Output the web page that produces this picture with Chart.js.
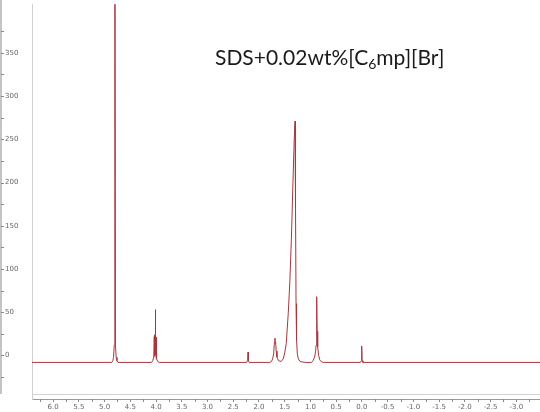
<!DOCTYPE html>
<html>
<head>
<meta charset="utf-8">
<script src="https://cdn.jsdelivr.net/npm/chart.js@4/dist/chart.umd.min.js"></script>
<style>
    body { margin: 0; background: #fff; }
    #wrap { position: relative; width: 540px; height: 412px; }
    #label {
        position: absolute; left: 215px; top: 46px;
        font-family: Lato, "Open Sans", sans-serif; font-size: 21px; color: #1a1a1a;
        line-height: 1; white-space: nowrap;
    }
    #label sub { font-size: 14px; vertical-align: -4px; line-height: 0; }
</style>
</head>
<body>
<div id="wrap">
    <canvas id="nmrChart"></canvas>
    <div id="label">SDS+0.02wt%[C<sub>6</sub>mp][Br]</div>
</div>
<script>
// chemical shift (ppm) and intensity
var shifts = [
    6.41, 4.86, 4.84, 4.825, 4.812, 4.80, 4.788, 4.775, 4.76, 4.74,
    4.09, 4.065, 4.045, 4.035, 4.03, 4.025, 4.02, 4.015, 4.01, 4.005, 4.0, 3.995, 3.985, 3.965, 3.94,
    2.24, 2.22, 2.212, 2.205, 2.19,
    1.79, 1.76, 1.735, 1.715, 1.70, 1.69, 1.682, 1.676, 1.665, 1.65, 1.62,
    1.57, 1.53, 1.50, 1.47, 1.43, 1.40, 1.37, 1.34, 1.315, 1.30, 1.29, 1.28, 1.27, 1.255, 1.235, 1.20, 1.10,
    0.98, 0.95, 0.92, 0.90, 0.89, 0.882, 0.875, 0.87, 0.864, 0.855, 0.84, 0.82, 0.79, 0.75,
    0.03, 0.012, 0.004, -0.004, -0.02, -3.46
];
var intensity = [
    -8, -8, -6, -2, 12, 600, 12, -2, -6, -8,
    -8, -6, -2, 22, -1, 24, 1, 53, 2, 23, -2, 21, -4, -7, -8,
    -8, -6, 4, -6, -8,
    -8, -7, -4, 2, 15, 20, 14, 15, 5, -2, -6,
    -7, -4, 3, 14, 50, 86, 135, 200, 250, 271, 170, 60, 18, 2, -4, -7, -8,
    -8, -6, -2, 5, 12, 24, 68, 28, 24, 10, 0, -5, -7, -8,
    -8, -6, 11, -6, -8, -8
];
var xTicks = [6.0, 5.5, 5.0, 4.5, 4.0, 3.5, 3.0, 2.5, 2.0, 1.5, 1.0, 0.5, 0.0, -0.5, -1.0, -1.5, -2.0, -2.5, -3.0];
var yTicks = [0, 50, 100, 150, 200, 250, 300, 350];

var points = shifts.map(function (s, i) { return { x: s, y: intensity[i] }; });

// extra axis pieces: detached left axis, bottom frame line, minor ticks
var axisDecor = {
    id: 'axisDecor',
    afterDraw: function (chart) {
        var ctx = chart.ctx;
        var area = chart.chartArea;
        var xs = chart.scales.x, ys = chart.scales.y;
        ctx.save();
        ctx.fillStyle = '#c4c4c4';
        ctx.fillRect(0, 0, 2, 394);
        ctx.strokeStyle = '#888';
        ctx.lineWidth = 1;
        for (var v = -25; v <= 375; v += 25) {
            var py = Math.round(ys.getPixelForValue(v)) + 0.5;
            ctx.beginPath();
            ctx.moveTo(1, py);
            ctx.lineTo(4, py);
            ctx.stroke();
        }
        ctx.strokeStyle = '#d4d4d4';
        ctx.beginPath();
        ctx.moveTo(area.left, 394.5);
        ctx.lineTo(area.right, 394.5);
        ctx.stroke();
        ctx.strokeStyle = '#888';
        for (var i = 0; i <= xTicks.length; i++) {
            var m = i < xTicks.length ? xTicks[i] + 0.25 : xTicks[xTicks.length - 1] - 0.25;
            var px = Math.round(xs.getPixelForValue(m)) + 0.5;
            if (px < area.left || px > area.right) continue;
            ctx.beginPath();
            ctx.moveTo(px, area.bottom);
            ctx.lineTo(px, area.bottom + 3);
            ctx.stroke();
        }
        ctx.restore();
    }
};

var ctx = document.getElementById('nmrChart').getContext('2d');
var nmrChart = new Chart(ctx, {
    type: 'line',
    data: {
        datasets: [{
            data: points,
            borderColor: '#a9363c',
            borderWidth: 1,
            pointRadius: 0,
            tension: 0,
            fill: false
        }]
    },
    options: {
        responsive: true,
        maintainAspectRatio: false,
        animation: false,
        layout: { padding: { left: 5, top: 0, right: 0, bottom: 0 } },
        plugins: { legend: { display: false }, tooltip: { enabled: false } },
        scales: {
            x: {
                type: 'linear',
                reverse: true,
                min: -3.46,
                max: 6.41,
                afterFit: function (scale) { scale.height = 13; },
                afterBuildTicks: function (scale) {
                    scale.ticks = xTicks.map(function (v) { return { value: v }; });
                },
                border: { color: '#999', width: 1 },
                grid: { drawOnChartArea: false, tickLength: 3, color: '#888' },
                ticks: {
                    autoSkip: false,
                    maxRotation: 0,
                    padding: 1,
                    color: '#666',
                    font: { family: 'DejaVu Sans', size: 7 },
                    callback: function (v) { return Number(v).toFixed(1); }
                }
            },
            y: {
                min: -50.3,
                max: 406.2,
                afterFit: function (scale) { scale.width = 27; },
                afterBuildTicks: function (scale) {
                    scale.ticks = yTicks.map(function (v) { return { value: v }; });
                },
                border: { color: '#d0d0d0', width: 1 },
                grid: { drawOnChartArea: false, drawTicks: false },
                ticks: {
                    crossAlign: 'far',
                    padding: 0,
                    color: '#666',
                    font: { family: 'DejaVu Sans', size: 7 }
                }
            }
        }
    },
    plugins: [axisDecor]
});
</script>
</body>
</html>
